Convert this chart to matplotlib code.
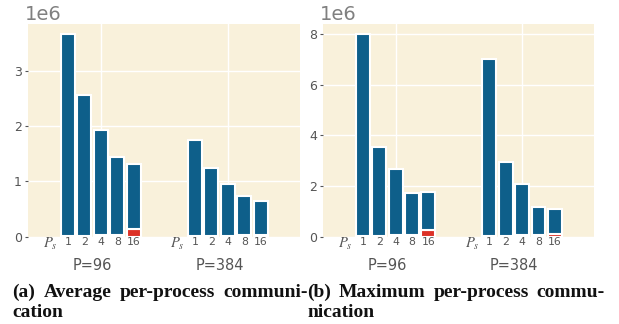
import matplotlib
matplotlib.use("Agg")
import matplotlib.pyplot as plt
import numpy as np

# ---- data ----
groups = ["P=96", "P=384"]
px_labels = ["1", "2", "4", "8", "16"]

# Average per-process communication (total bar heights, in units of 1e6)
avg_total = [[3.67, 2.56, 1.93, 1.45, 1.31],
             [1.75, 1.25, 0.96, 0.73, 0.64]]
avg_red = [[0.005, 0.01, 0.02, 0.035, 0.13],
           [0.005, 0.005, 0.01, 0.02, 0.03]]

# Maximum per-process communication
max_total = [[8.0, 3.55, 2.65, 1.70, 1.75],
             [7.0, 2.95, 2.07, 1.15, 1.07]]
max_red = [[0.02, 0.03, 0.05, 0.07, 0.27],
           [0.02, 0.03, 0.04, 0.06, 0.10]]

captions = [["(a) Average per-process communi-", "cation"],
            ["(b) Maximum per-process commu-", "nication"]]

BLUE = "#0E5F8A"
RED = "#DC3126"
BG = "#F9F1DB"
GRAY = "#555555"
GROUP_OFF = 7.7

fig = plt.figure(figsize=(6.19, 3.24), dpi=100)
W, H = 619, 324

def px_axes(l, r, t, b):
    return fig.add_axes([l / W, 1 - b / H, (r - l) / W, (b - t) / H])

ax1 = px_axes(28, 300, 24, 236.5)
ax2 = px_axes(323, 594, 24, 236.5)

def draw(ax, totals, reds, yticks):
    ax.set_facecolor(BG)
    for s in ax.spines.values():
        s.set_visible(False)
    for g, (tot, red) in enumerate(zip(totals, reds)):
        x = np.arange(1, 6) + g * GROUP_OFF
        tot = np.array(tot) * 1e6
        red = np.array(red) * 1e6
        ax.bar(x, red, width=0.85, color=RED, edgecolor="white", linewidth=1.5, zorder=3)
        ax.bar(x, tot - red, bottom=red, width=0.85, color=BLUE, edgecolor="white",
               linewidth=1.5, zorder=3)
        tr = ax.get_xaxis_transform()
        for xi, lab in zip(x, px_labels):
            ax.text(xi, -0.027, lab, transform=tr, ha="center", va="center",
                    fontsize=7.8, color=GRAY)
        ax.text(g * GROUP_OFF - 0.05, -0.033, r"$P_s$", transform=tr, ha="center",
                va="center", fontsize=10.5, color=GRAY, math_fontfamily="stix")
        ax.text(g * GROUP_OFF + 2.5, -0.135, groups[g], transform=tr, ha="center",
                va="center", fontsize=10.5, color=GRAY)
    ax.set_xlim(-1.42, 15.08)
    ax.set_xticks([3, 3 + GROUP_OFF])
    ax.set_xticklabels([])
    ax.tick_params(axis="x", length=0)
    ax.set_yticks(np.array(yticks) * 1e6)
    ax.set_ylim(0, max(max(t) for t in totals) * 1.05e6)
    ax.tick_params(axis="y", length=2.5, width=0.8, color=GRAY, labelcolor=GRAY,
                   labelsize=9, pad=2)
    ax.grid(True, color="white", linewidth=1.0, zorder=0)
    ax.set_axisbelow(True)
    ot = ax.yaxis.get_offset_text()
    ot.set_fontsize(14)
    ot.set_color("#808080")

draw(ax1, avg_total, avg_red, [0, 1, 2, 3])
draw(ax2, max_total, max_red, [0, 2, 4, 6, 8])
for ax in (ax1, ax2):
    ax.yaxis.get_offset_text().set_x(-0.01)

# justified captions
renderer = fig.canvas.get_renderer()
font = dict(family="Liberation Serif", weight="bold", fontsize=14, color="#111111")

def justified(line, x0, x1, yb):
    words = line.split(" ")
    objs = [fig.text(0, 1 - yb / H, w, va="baseline", ha="left", **font) for w in words]
    widths = [o.get_window_extent(renderer).width for o in objs]
    gap = (x1 - x0 - sum(widths)) / (len(words) - 1)
    x = x0
    for o, w in zip(objs, widths):
        o.set_x(x / W)
        x += w + gap

justified(captions[0][0], 12, 308, 297)
fig.text(12 / W, 1 - 317 / H, captions[0][1], va="baseline", ha="left", **font)
justified(captions[1][0], 307, 605, 297)
fig.text(307 / W, 1 - 317 / H, captions[1][1], va="baseline", ha="left", **font)

fig.savefig("out.png", dpi=100)
